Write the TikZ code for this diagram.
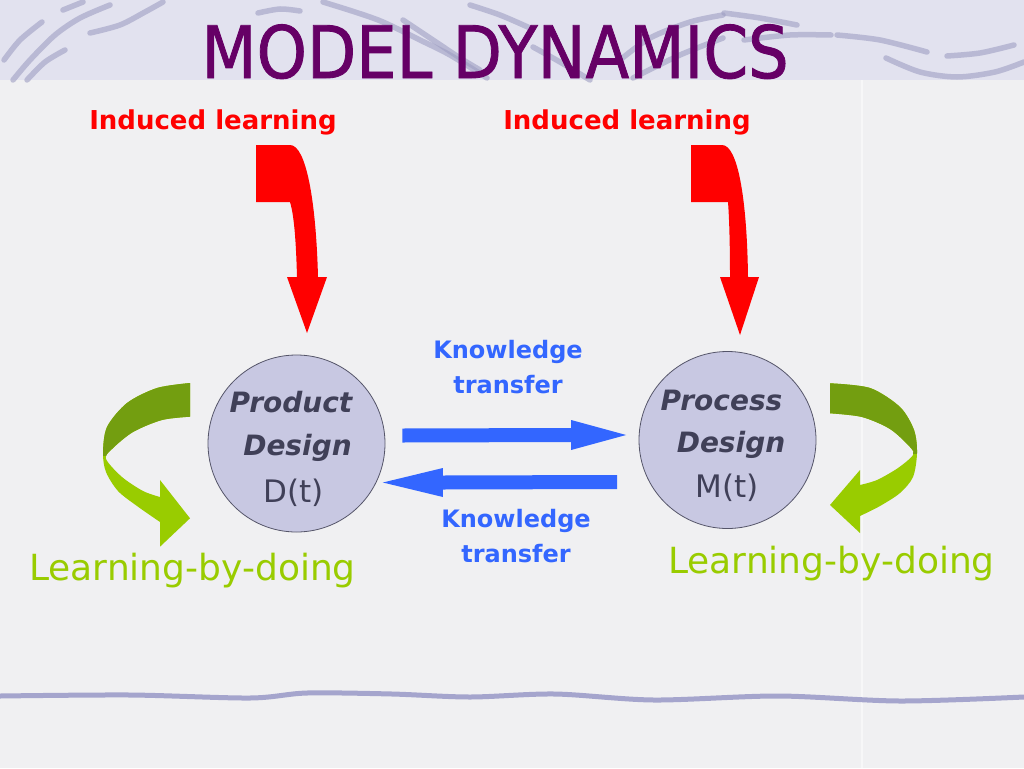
\documentclass[tikz,border=0pt]{standalone}
\usepackage{fontspec}
\setmainfont{DejaVu Sans}
\newfontfamily\titlefont[FakeBold=1.2]{DejaVu Sans}
\usetikzlibrary{calc}
\definecolor{bgc}{RGB}{240,240,242}
\definecolor{banner}{RGB}{226,226,239}
\definecolor{swirl}{RGB}{158,158,194}
\definecolor{titlec}{RGB}{102,0,102}
\definecolor{redc}{RGB}{255,0,0}
\definecolor{bluec}{RGB}{51,102,255}
\definecolor{circfill}{RGB}{200,200,226}
\definecolor{circdraw}{RGB}{85,85,105}
\definecolor{ctextc}{RGB}{64,64,88}
\definecolor{lgreen}{RGB}{153,204,0}
\definecolor{dgreen}{RGB}{115,158,16}
\definecolor{linec}{RGB}{165,165,205}
\begin{document}
\begin{tikzpicture}[x=1pt,y=-1pt,
  swirlline/.style={draw=swirl, line width=5.5pt, line cap=round, opacity=0.6},
  circ/.style={circle, fill=circfill, draw=circdraw, line width=0.8pt, minimum size=177pt, inner sep=0pt},
  redlabel/.style={text=redc, font=\bfseries\fontsize{26}{30}\selectfont, inner sep=0pt, anchor=base},
  ctextb/.style={text=ctextc, font=\bfseries\itshape\fontsize{28}{30}\selectfont, inner sep=0pt, anchor=base},
  ctextr/.style={text=ctextc, font=\fontsize{31}{34}\selectfont, inner sep=0pt, anchor=base},
  ktext/.style={text=bluec, font=\bfseries\fontsize{24}{35}\selectfont, align=center, inner sep=0pt, anchor=north},
  lbd/.style={text=lgreen, font=\fontsize{36}{40}\selectfont, inner sep=0pt, anchor=base},
  bluearrow/.style={fill=bluec},
  redarrow/.style={fill=redc}
]
\useasboundingbox (0,0) rectangle (1024,768);
\fill[bgc] (0,0) rectangle (1024,768);
\fill[banner] (0,0) rectangle (1024,80);
\draw[white, opacity=0.5, line width=1.5pt] (862,80) -- (862,768);
% swirls
\draw[swirlline] plot[smooth] coordinates {(4,60) (20,40) (42,22)};
\draw[swirlline] plot[smooth] coordinates {(13,80) (30,60) (55,35) (80,18) (110,5)};
\draw[swirlline] plot[smooth] coordinates {(27,80) (45,62) (65,50)};
\draw[swirlline] plot[smooth] coordinates {(63,10) (83,2)};
\draw[swirlline] plot[smooth] coordinates {(90,33) (120,25) (145,12) (163,2)};
\draw[swirlline] plot[smooth] coordinates {(258,13) (280,9) (300,11)};
\draw[swirlline] plot[smooth] coordinates {(323,2) (355,12) (383,22) (420,40) (450,55) (487,78)};
\draw[swirlline] plot[smooth] coordinates {(403,20) (433,40) (460,58) (480,70)};
\draw[swirlline] plot[smooth] coordinates {(470,5) (500,15) (530,28)};
\draw[swirlline] plot[smooth] coordinates {(533,47) (560,62) (590,80)};
\draw[swirlline] plot[smooth] coordinates {(620,60) (650,38) (690,22) (723,15)};
\draw[swirlline] plot[smooth] coordinates {(633,78) (680,55) (723,38)};
\draw[swirlline] plot[smooth] coordinates {(724,13) (760,18) (797,25)};
\draw[swirlline] plot[smooth] coordinates {(744,40) (790,35) (831,35)};
\draw[swirlline] plot[smooth] coordinates {(837,35) (880,40) (927,52)};
\draw[swirlline] plot[smooth] coordinates {(886,58) (920,72) (957,77) (995,72) (1024,62)};
\draw[swirlline] plot[smooth] coordinates {(947,56) (980,53) (1014,45)};
% bottom wavy line
\draw[draw=linec, line width=5pt, line cap=round] plot[smooth] coordinates {(0,696) (130,695) (250,698) (307,693) (392,694) (470,697) (555,694) (654,700) (778,696) (900,701) (1024,697)};
% title
\node[anchor=base, text=titlec, inner sep=0pt, font=\titlefont\fontsize{64}{70}\selectfont] (title) at (495,78) {\scalebox{1}[1.13]{MODEL DYNAMICS}};
% red labels
\node[redlabel] (il1) at (213,129) {Induced learning};
\node[redlabel] (il2) at (627,129) {Induced learning};
% red arrows
\fill[redarrow] (256,145) -- (290,145) .. controls (306,145) and (316,200) .. (318,277) -- (327,277) -- (307,333) -- (287,277) -- (297,277) .. controls (296,240) and (294,215) .. (290,202) -- (256,202) -- cycle;
\fill[redarrow] (691,145) -- (722,145) .. controls (738,145) and (747,200) .. (748,277) -- (759,277) -- (740,335) -- (720,277) -- (730,277) .. controls (730,240) and (729,215) .. (728,202) -- (691,202) -- cycle;
% circles
\node[circ] (pd) at (296.5,443.5) {};
\node[circ] (md) at (727.5,440) {};
\node[ctextb] (pd1) at (291,412) {Product};
\node[ctextb] (pd2) at (297.5,455) {Design};
\node[ctextr] (pd3) at (293.5,502) {D(t)};
\node[ctextb] (md1) at (721.5,410) {Process};
\node[ctextb] (md2) at (731,452) {Design};
\node[ctextr] (md3) at (727,497) {M(t)};
% knowledge transfer labels
\node[ktext] (kt1) at (508,340) {Knowledge\\transfer};
\node[ktext] (kt2) at (516,509) {Knowledge\\transfer};
% blue arrows
\coordinate (k1s) at ([xshift=17pt,yshift=8pt]pd.east);
\coordinate (k1e) at ([xshift=-12.5pt,yshift=5pt]md.west);
\fill[bluearrow] ($(k1s)+(0,-7)$) -- ($(k1e)+(-55,-7)$) -- ($(k1e)+(-55,-15)$) -- (k1e) -- ($(k1e)+(-55,15)$) -- ($(k1e)+(-55,7)$) -- ($(k1s)+(0,7)$) -- cycle;
\coordinate (k2s) at ([xshift=-21.5pt,yshift=-42pt]md.west);
\coordinate (k2e) at ([xshift=-2.5pt,yshift=-39pt]pd.east);
\fill[bluearrow] ($(k2s)+(0,-7)$) -- ($(k2e)+(60,-7)$) -- ($(k2e)+(60,-14.5)$) -- (k2e) -- ($(k2e)+(60,14.5)$) -- ($(k2e)+(60,7)$) -- ($(k2s)+(0,7)$) -- cycle;
% green arrows
\fill[lgreen] plot[smooth] coordinates {(190,383) (157,388) (127,403) (107,427) (103,453) (106,472) (118,491) (137,506) (160,522)} -- (160,546.7) -- (190,518.3) -- (160,480) -- plot[smooth] coordinates {(160,497) (143,491) (122,477) (106,459) (112,449) (133,432) (162,420) (190,416.7)} -- cycle;
\begin{scope}
\clip (0,370) rectangle (1024,455);
\fill[dgreen] plot[smooth] coordinates {(190,383) (157,388) (127,403) (107,427) (103,453) (106,472) (118,491) (137,506) (160,522)} -- (160,546.7) -- (190,518.3) -- (160,480) -- plot[smooth] coordinates {(160,497) (143,491) (122,477) (106,459) (112,449) (133,432) (162,420) (190,416.7)} -- cycle;
\end{scope}
\fill[lgreen] plot[smooth] coordinates {(830,383.3) (870,388) (900,407) (914,430) (917,453) (913,477) (900,493) (880,506) (860,516)} -- (860,533) -- (830,505) -- (860,470) -- plot[smooth] coordinates {(860,485) (877,480) (898,468) (913,455) (910,447) (890,429) (862,417) (830,413.3)} -- cycle;
\begin{scope}
\clip (0,370) rectangle (1024,453);
\fill[dgreen] plot[smooth] coordinates {(830,383.3) (870,388) (900,407) (914,430) (917,453) (913,477) (900,493) (880,506) (860,516)} -- (860,533) -- (830,505) -- (860,470) -- plot[smooth] coordinates {(860,485) (877,480) (898,468) (913,455) (910,447) (890,429) (862,417) (830,413.3)} -- cycle;
\end{scope}
% learning-by-doing
\node[lbd] (lb1) at (192.5,580) {Learning-by-doing};
\node[lbd] (lb2) at (831.5,573) {Learning-by-doing};
\end{tikzpicture}
\end{document}
